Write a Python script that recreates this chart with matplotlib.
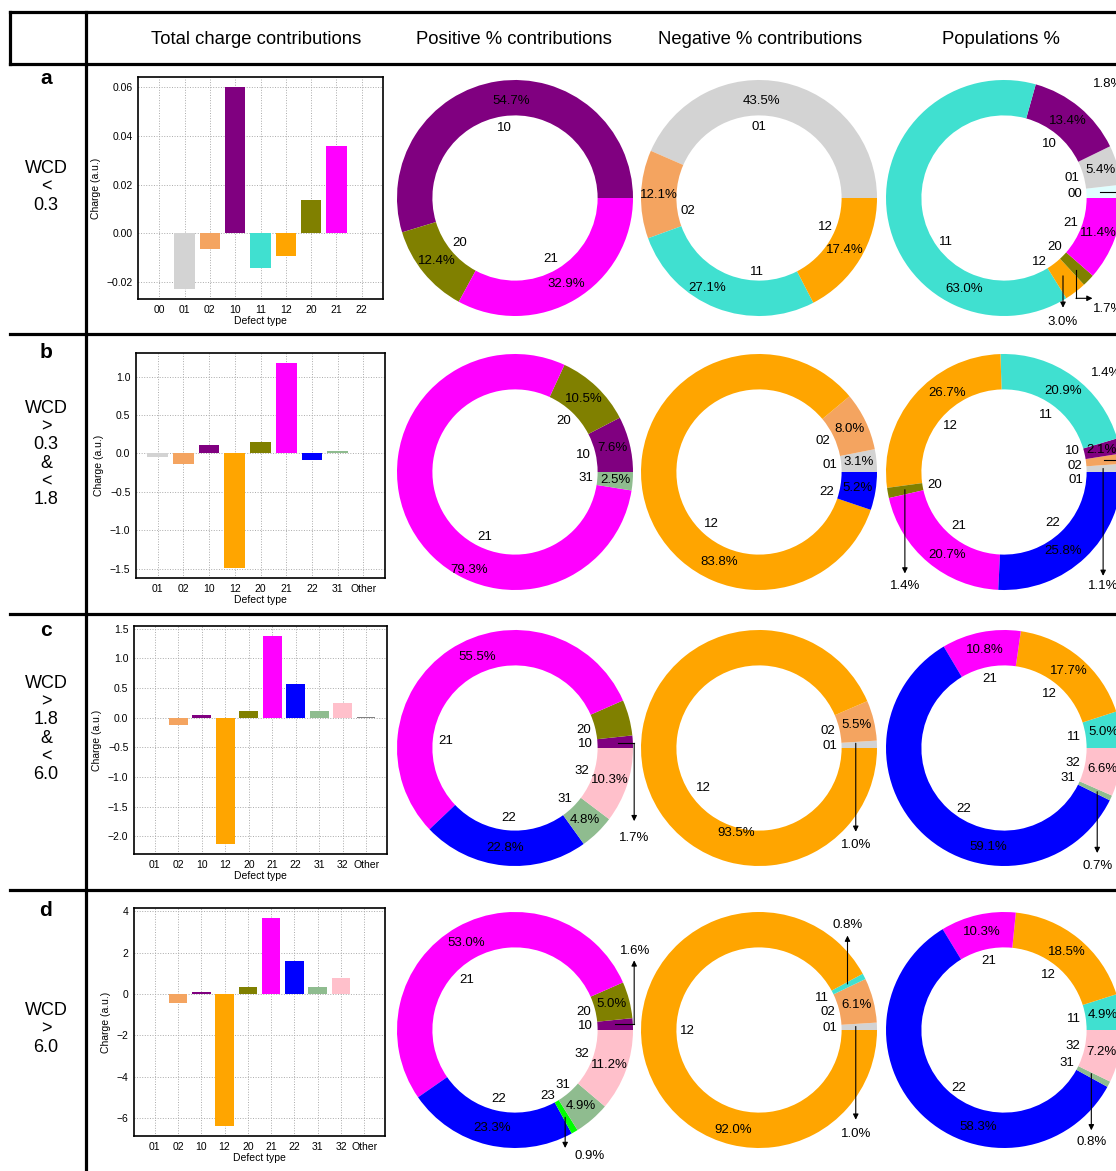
import numpy as np
import matplotlib
matplotlib.use('Agg')
import matplotlib.pyplot as plt
from matplotlib.lines import Line2D

plt.rcParams['font.family'] = ['Liberation Sans', 'DejaVu Sans']
plt.rcParams['axes.unicode_minus'] = True

W, H = 1116, 1171

# colour used for every defect type, in bars and donuts alike
type_colors = {
    '00': 'lightcyan', '01': 'lightgray', '02': 'sandybrown', '10': 'purple',
    '11': 'turquoise', '12': 'orange', '20': 'olive', '21': 'magenta',
    '22': 'blue', '23': 'lime', '31': 'darkseagreen', '32': 'pink',
    'Other': 'gray',
}

# ---- total charge per defect type ----
a_bar_types = ['00', '01', '02', '10', '11', '12', '20', '21', '22']
a_bar_charge = [0.0, -0.0228, -0.0063, 0.0600, -0.0143, -0.0091, 0.0135, 0.0359, 0.0]

b_bar_types = ['01', '02', '10', '12', '20', '21', '22', '31', 'Other']
b_bar_charge = [-0.052, -0.139, 0.109, -1.49, 0.152, 1.174, -0.091, 0.035, 0.0]

c_bar_types = ['01', '02', '10', '12', '20', '21', '22', '31', '32', 'Other']
c_bar_charge = [-0.01, -0.129, 0.039, -2.124, 0.112, 1.371, 0.562, 0.112, 0.247, 0.008]

d_bar_types = ['01', '02', '10', '12', '20', '21', '22', '31', '32', 'Other']
d_bar_charge = [-0.02, -0.43, 0.096, -6.35, 0.336, 3.65, 1.6, 0.336, 0.77, 0.02]

# ---- percentage breakdowns ----
a_pos_types = ['10', '20', '21']
a_pos_pct = [54.7, 12.4, 32.9]
a_neg_types = ['01', '02', '11', '12']
a_neg_pct = [43.5, 12.1, 27.1, 17.4]
a_pop_types = ['00', '01', '10', '11', '12', '20', '21']
a_pop_pct = [1.8, 5.4, 13.4, 63.0, 3.0, 1.7, 11.4]

b_pos_types = ['10', '20', '21', '31']
b_pos_pct = [7.6, 10.5, 79.3, 2.5]
b_neg_types = ['01', '02', '12', '22']
b_neg_pct = [3.1, 8.0, 83.8, 5.2]
b_pop_types = ['01', '02', '10', '11', '12', '20', '21', '22']
b_pop_pct = [1.1, 1.4, 2.1, 20.9, 26.7, 1.4, 20.7, 25.8]

c_pos_types = ['10', '20', '21', '22', '31', '32']
c_pos_pct = [1.7, 4.9, 55.5, 22.8, 4.8, 10.3]
c_neg_types = ['01', '02', '12']
c_neg_pct = [1.0, 5.5, 93.5]
c_pop_types = ['11', '12', '21', '22', '31', '32']
c_pop_pct = [5.0, 17.7, 10.8, 59.1, 0.7, 6.6]

d_pos_types = ['10', '20', '21', '22', '23', '31', '32']
d_pos_pct = [1.6, 5.0, 53.0, 23.3, 0.9, 4.9, 11.2]
d_neg_types = ['01', '02', '11', '12']
d_neg_pct = [1.0, 6.1, 0.8, 92.0]
d_pop_types = ['11', '12', '21', '22', '31', '32']
d_pop_pct = [4.9, 18.5, 10.3, 58.3, 0.8, 7.2]

row_letters = ['a', 'b', 'c', 'd']
row_ranges = ['WCD\n<\n0.3', 'WCD\n>\n0.3\n&\n<\n1.8', 'WCD\n>\n1.8\n&\n<\n6.0', 'WCD\n>\n6.0']
headers = ['Total charge contributions', 'Positive % contributions',
           'Negative % contributions', 'Populations %']

bar_data = [(a_bar_types, a_bar_charge), (b_bar_types, b_bar_charge),
            (c_bar_types, c_bar_charge), (d_bar_types, d_bar_charge)]
donut_data = [
    [(a_pos_types, a_pos_pct), (a_neg_types, a_neg_pct), (a_pop_types, a_pop_pct)],
    [(b_pos_types, b_pos_pct), (b_neg_types, b_neg_pct), (b_pop_types, b_pop_pct)],
    [(c_pos_types, c_pos_pct), (c_neg_types, c_neg_pct), (c_pop_types, c_pop_pct)],
    [(d_pos_types, d_pos_pct), (d_neg_types, d_neg_pct), (d_pop_types, d_pop_pct)],
]

# ---- layout (pixels) ----
bar_boxes = [(138, 77, 383, 299), (136, 353, 385, 578),
             (134, 626, 387, 854), (134, 908, 385, 1136)]
row_cy = [198, 472, 748, 1030]
col_cx = [515, 759, 1004]
R = 118
LIM = 1.35

# leader lines for thin wedges: (row, col, type) -> path in donut units,
# text position, text alignment
leaders = {
    (0, 2, '00'): ([(0.81, 0.05), (1.3, 0.05), (1.3, 0.85)], (0.75, 0.97), 'left'),
    (0, 2, '12'): ([(0.5, -0.66), (0.5, -0.93)], (0.5, -1.05), 'center'),
    (0, 2, '20'): ([(0.61, -0.61), (0.61, -0.85), (0.75, -0.85)], (0.75, -0.94), 'left'),
    (1, 2, '01'): ([(0.84, 0.03), (0.84, -0.88)], (0.84, -0.97), 'center'),
    (1, 2, '02'): ([(0.85, 0.1), (1.3, 0.1), (1.3, 0.75)], (0.735, 0.84), 'left'),
    (1, 2, '20'): ([(-0.84, -0.15), (-0.84, -0.86)], (-0.84, -0.97), 'center'),
    (2, 0, '10'): ([(0.87, 0.04), (1.01, 0.04), (1.01, -0.62)], (1.01, -0.76), 'center'),
    (2, 1, '01'): ([(0.82, 0.04), (0.82, -0.71)], (0.82, -0.82), 'center'),
    (2, 2, '31'): ([(0.79, -0.37), (0.79, -0.89)], (0.79, -1.0), 'center'),
    (3, 0, '10'): ([(0.85, 0.05), (1.01, 0.05), (1.01, 0.59)], (1.02, 0.67), 'center'),
    (3, 0, '23'): ([(0.425, -0.74), (0.425, -1.0)], (0.63, -1.07), 'center'),
    (3, 1, '11'): ([(0.75, 0.39), (0.75, 0.8)], (0.75, 0.89), 'center'),
    (3, 1, '01'): ([(0.82, 0.03), (0.82, -0.76)], (0.82, -0.88), 'center'),
    (3, 2, '31'): ([(0.74, -0.37), (0.74, -0.85)], (0.74, -0.95), 'center'),
}
# wedges drawn without a percentage
no_pct = {(2, 0, '20')}

# labels nudged away from the wedge mid-angle
name_pos = {
    (0, 1, '01'): (0.0, 0.6), (0, 1, '02'): (-0.6, -0.11),
    (0, 1, '11'): (-0.02, -0.63), (0, 1, '12'): (0.56, -0.25),
    (0, 2, '11'): (-0.49, -0.375), (0, 2, '12'): (0.3, -0.54),
    (1, 0, '21'): (-0.26, -0.55),
    (1, 1, '12'): (-0.4, -0.44), (1, 1, '22'): (0.57, -0.167),
    (1, 2, '01'): (0.61, -0.067), (1, 2, '02'): (0.6, 0.047), (1, 2, '10'): (0.58, 0.175),
    (2, 0, '21'): (-0.59, 0.06), (2, 1, '12'): (-0.47, -0.34), (2, 2, '22'): (-0.34, -0.52),
    (3, 0, '21'): (-0.41, 0.42), (3, 0, '23'): (0.275, -0.56), (3, 0, '31'): (0.405, -0.47),
    (3, 1, '12'): (-0.61, -0.01), (3, 2, '22'): (-0.38, -0.49),
}
pct_pos = {
    (0, 0, '10'): (-0.03, 0.82), (0, 1, '01'): (0.02, 0.82), (0, 1, '11'): (-0.44, -0.76),
    (0, 2, '11'): (-0.34, -0.77),
    (1, 0, '21'): (-0.39, -0.83), (1, 1, '12'): (-0.34, -0.76),
    (1, 2, '12'): (-0.48, 0.67), (1, 2, '21'): (-0.48, -0.7), (1, 2, '22'): (0.5, -0.67),
    (2, 0, '21'): (-0.32, 0.77), (2, 1, '12'): (-0.19, -0.72), (2, 2, '22'): (-0.13, -0.84),
    (3, 1, '12'): (-0.22, -0.85), (3, 2, '22'): (-0.22, -0.82),
}

fig = plt.figure(figsize=(W / 100, H / 100), dpi=100)


def px_box(x0, y0, x1, y1):
    return [x0 / W, 1 - y1 / H, (x1 - x0) / W, (y1 - y0) / H]


def draw_bars(ax, types, charge):
    x = np.arange(len(types))
    ax.bar(x, charge, width=0.8, color=[type_colors[t] for t in types], zorder=2)
    ax.set_xticks(x)
    ax.set_xticklabels(types)
    ax.grid(True, linestyle=':', color='#aaaaaa', linewidth=0.7)
    ax.set_axisbelow(True)
    ax.tick_params(labelsize=7.5, length=0, pad=4)
    ax.set_xlabel('Defect type', fontsize=7.5, labelpad=1)
    ax.set_ylabel('Charge (a.u.)', fontsize=7.5, labelpad=4)
    for sp in ax.spines.values():
        sp.set_linewidth(1.2)


def draw_donut(ax, r, c, types, pct):
    colors = [type_colors[t] for t in types]
    ax.pie(pct, colors=colors, startangle=0, counterclock=True, radius=1,
           wedgeprops=dict(width=0.3, linewidth=0))
    frac = np.array(pct) / np.sum(pct)
    edges = np.concatenate([[0], np.cumsum(frac)]) * 360
    for i, t in enumerate(types):
        mid = np.deg2rad((edges[i] + edges[i + 1]) / 2)
        key = (r, c, t)
        nx, ny = name_pos.get(key, (0.6 * np.cos(mid), 0.6 * np.sin(mid)))
        ax.text(nx, ny, t, ha='center', va='center', fontsize=9.5)
        label = f'{pct[i]:.1f}%'
        if key in no_pct:
            continue
        if key in leaders:
            path, tpos, ha = leaders[key]
            xs = [p[0] for p in path]
            ys = [p[1] for p in path]
            if len(path) > 2:
                ax.plot(xs[:-1], ys[:-1], color='k', lw=0.8, clip_on=False)
            ax.annotate('', xy=path[-1], xytext=path[-2],
                        arrowprops=dict(arrowstyle='-|>', color='k', lw=0.8,
                                        mutation_scale=8, shrinkA=0, shrinkB=0),
                        annotation_clip=False)
            ax.text(tpos[0], tpos[1], label, ha=ha, va='center', fontsize=9.5)
        else:
            px, py = pct_pos.get(key, (0.85 * np.cos(mid), 0.85 * np.sin(mid)))
            ax.text(px, py, label, ha='center', va='center', fontsize=9.5)
    ax.set_xlim(-LIM, LIM)
    ax.set_ylim(-LIM, LIM)
    ax.set_aspect('equal')
    ax.axis('off')


for r in range(4):
    types, charge = bar_data[r]
    ax = fig.add_axes(px_box(*bar_boxes[r]))
    draw_bars(ax, types, charge)
    for c in range(3):
        cx, cy = col_cx[c], row_cy[r]
        s = LIM * R
        dax = fig.add_axes(px_box(cx - s, cy - s, cx + s, cy + s))
        types_d, pct_d = donut_data[r][c]
        draw_donut(dax, r, c, types_d, pct_d)

# header text
for x, h in zip([256, 514, 760, 1001], headers):
    fig.text(x / W, 1 - 40 / H, h, ha='center', va='center', fontsize=13.3)

# row labels
letter_y = [78, 352, 630, 910]
range_y = [187, 454, 729, 1029]
for r in range(4):
    fig.text(46 / W, 1 - letter_y[r] / H, row_letters[r], ha='center', va='center',
             fontsize=15, fontweight='bold')
    fig.text(46 / W, 1 - range_y[r] / H, row_ranges[r], ha='center', va='center',
             fontsize=13, linespacing=1.1)

# table rules
lw = 2.3
for y in [12, 64, 334, 614, 890]:
    fig.add_artist(Line2D([10 / W, 1], [1 - y / H, 1 - y / H], color='k', lw=lw))
fig.add_artist(Line2D([86 / W, 86 / W], [1 - 12 / H, 0], color='k', lw=lw))
fig.add_artist(Line2D([10 / W, 10 / W], [1 - 12 / H, 1 - 64 / H], color='k', lw=lw))

fig.savefig('out.png', dpi=100)
